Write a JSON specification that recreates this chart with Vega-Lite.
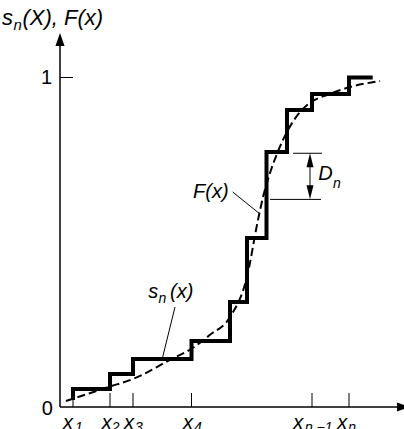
{
  "$schema": "https://vega.github.io/schema/vega-lite/v6.json",
  "width": 344,
  "height": 374,
  "autosize": {"type": "none"},
  "padding": {"left": 60, "top": 33, "right": 0, "bottom": 22},
  "background": "white",
  "config": {"view": {"stroke": null}},
  "datasets": {
    "axes": [
      {"x": 0, "y": 0, "x2": 344, "y2": 0},
      {"x": 0, "y": 0, "x2": 0, "y2": 1.12}
    ],
    "arrows": [
      {"x": 0, "y": 1.1153, "dir": "up"},
      {"x": 343.5, "y": 0, "dir": "right"}
    ],
    "xticks": [
      {"x": 13, "y": 0, "y2": 0.0425},
      {"x": 50, "y": 0, "y2": 0.0425},
      {"x": 73, "y": 0, "y2": 0.0425},
      {"x": 131.5, "y": 0, "y2": 0.0425},
      {"x": 252, "y": 0, "y2": 0.0425},
      {"x": 289, "y": 0, "y2": 0.0425}
    ],
    "yticks": [
      {"x": 0, "x2": 13, "y": 1}
    ],
    "steps": [
      {"order": 1, "x": 13, "y": 0.021},
      {"order": 2, "x": 13, "y": 0.0546},
      {"order": 3, "x": 50, "y": 0.1002},
      {"order": 4, "x": 73, "y": 0.1457},
      {"order": 5, "x": 131.5, "y": 0.2003},
      {"order": 6, "x": 170, "y": 0.3187},
      {"order": 7, "x": 187, "y": 0.5129},
      {"order": 8, "x": 206.5, "y": 0.7739},
      {"order": 9, "x": 227, "y": 0.9014},
      {"order": 10, "x": 252, "y": 0.9499},
      {"order": 11, "x": 289, "y": 1.0},
      {"order": 12, "x": 312.7, "y": 1.0}
    ],
    "curve": [
      {"x": 6, "y": 0.018},
      {"x": 50, "y": 0.062},
      {"x": 73, "y": 0.085},
      {"x": 110, "y": 0.143},
      {"x": 131, "y": 0.176},
      {"x": 150, "y": 0.219},
      {"x": 170, "y": 0.273},
      {"x": 187, "y": 0.395},
      {"x": 198, "y": 0.568},
      {"x": 203, "y": 0.637},
      {"x": 210, "y": 0.71},
      {"x": 218, "y": 0.776},
      {"x": 227, "y": 0.835},
      {"x": 240, "y": 0.895},
      {"x": 250, "y": 0.923},
      {"x": 270, "y": 0.95},
      {"x": 290, "y": 0.971},
      {"x": 320, "y": 0.989}
    ],
    "leaders": [
      {"x": 172.7, "y": 0.6525, "x2": 200, "y2": 0.5857},
      {"x": 115, "y": 0.3035, "x2": 102.7, "y2": 0.1517}
    ],
    "dnlines": [
      {"x": 233, "x2": 262, "y": 0.77},
      {"x": 210, "x2": 261, "y": 0.63}
    ],
    "dnshaft": [
      {"x": 250, "y": 0.66, "y2": 0.74}
    ],
    "dnheads": [
      {"x": 250, "y": 0.7487, "dir": "up"},
      {"x": 250, "y": 0.6516, "dir": "down"}
    ],
    "labels": [
      {"kind": "num", "text": "0", "x": -18.3, "y": -0.0243},
      {"kind": "num", "text": "1", "x": -19, "y": 0.979},
      {"kind": "title", "text": "s", "x": -58, "y": 1.1593},
      {"kind": "titlesub", "text": "n", "x": -46.5, "y": 1.145},
      {"kind": "title", "text": "(X), F(x)", "x": -37.5, "y": 1.1593},
      {"kind": "main", "text": "F(x)", "x": 133, "y": 0.634},
      {"kind": "main", "text": "s", "x": 88.3, "y": 0.3308},
      {"kind": "sub", "text": "n", "x": 98.5, "y": 0.3156},
      {"kind": "main", "text": "(x)", "x": 110, "y": 0.3308},
      {"kind": "main", "text": "D", "x": 258.3, "y": 0.689},
      {"kind": "sub", "text": "n", "x": 273, "y": 0.665},
      {"kind": "main", "text": "x", "x": 3, "y": -0.066},
      {"kind": "sub", "text": "1", "x": 15, "y": -0.0749},
      {"kind": "main", "text": "x", "x": 41.7, "y": -0.066},
      {"kind": "sub", "text": "2", "x": 51.7, "y": -0.0749},
      {"kind": "main", "text": "x", "x": 64, "y": -0.066},
      {"kind": "sub", "text": "3", "x": 75, "y": -0.0749},
      {"kind": "main", "text": "x", "x": 123, "y": -0.066},
      {"kind": "sub", "text": "4", "x": 134, "y": -0.0749},
      {"kind": "main", "text": "x", "x": 233.3, "y": -0.066},
      {"kind": "sub", "text": "n −1", "x": 245, "y": -0.0749},
      {"kind": "main", "text": "x", "x": 277.3, "y": -0.066},
      {"kind": "sub", "text": "n", "x": 288.3, "y": -0.0749}
    ]
  },
  "layer": [
    {
      "data": {"name": "axes"},
      "mark": {"type": "rule", "color": "black", "strokeWidth": 1.5},
      "encoding": {
        "x": {"field": "x", "type": "quantitative", "scale": {"domain": [0, 344], "nice": false, "zero": false}, "axis": null},
        "y": {"field": "y", "type": "quantitative", "scale": {"domain": [0, 1.135], "nice": false, "zero": false}, "axis": null},
        "x2": {"field": "x2"},
        "y2": {"field": "y2"}
      }
    },
    {
      "data": {"name": "xticks"},
      "mark": {"type": "rule", "color": "black", "strokeWidth": 1},
      "encoding": {
        "x": {"field": "x", "type": "quantitative", "scale": {"domain": [0, 344], "nice": false, "zero": false}, "axis": null},
        "y": {"field": "y", "type": "quantitative", "scale": {"domain": [0, 1.135], "nice": false, "zero": false}, "axis": null},
        "y2": {"field": "y2"}
      }
    },
    {
      "data": {"name": "yticks"},
      "mark": {"type": "rule", "color": "black", "strokeWidth": 1},
      "encoding": {
        "x": {"field": "x", "type": "quantitative", "scale": {"domain": [0, 344], "nice": false, "zero": false}, "axis": null},
        "x2": {"field": "x2"},
        "y": {"field": "y", "type": "quantitative", "scale": {"domain": [0, 1.135], "nice": false, "zero": false}, "axis": null}
      }
    },
    {
      "data": {"name": "arrows"},
      "transform": [{"filter": "datum.dir === 'up'"}],
      "mark": {"type": "point", "shape": "M0,-1L0.7,1L-0.7,1Z", "size": 169, "filled": true, "color": "black", "opacity": 1, "strokeWidth": 0},
      "encoding": {
        "x": {"field": "x", "type": "quantitative", "scale": {"domain": [0, 344], "nice": false, "zero": false}, "axis": null},
        "y": {"field": "y", "type": "quantitative", "scale": {"domain": [0, 1.135], "nice": false, "zero": false}, "axis": null}
      }
    },
    {
      "data": {"name": "arrows"},
      "transform": [{"filter": "datum.dir === 'right'"}],
      "mark": {"type": "point", "shape": "M1,0L-1,-0.7L-1,0.7Z", "size": 169, "filled": true, "color": "black", "opacity": 1, "strokeWidth": 0},
      "encoding": {
        "x": {"field": "x", "type": "quantitative", "scale": {"domain": [0, 344], "nice": false, "zero": false}, "axis": null},
        "y": {"field": "y", "type": "quantitative", "scale": {"domain": [0, 1.135], "nice": false, "zero": false}, "axis": null}
      }
    },
    {
      "data": {"name": "curve"},
      "mark": {"type": "line", "color": "black", "strokeWidth": 2, "strokeDash": [8, 4], "interpolate": "monotone"},
      "encoding": {
        "x": {"field": "x", "type": "quantitative", "scale": {"domain": [0, 344], "nice": false, "zero": false}, "axis": null},
        "y": {"field": "y", "type": "quantitative", "scale": {"domain": [0, 1.135], "nice": false, "zero": false}, "axis": null}
      }
    },
    {
      "data": {"name": "steps"},
      "mark": {"type": "line", "color": "black", "strokeWidth": 4, "interpolate": "step-after", "strokeJoin": "miter", "strokeCap": "butt"},
      "encoding": {
        "x": {"field": "x", "type": "quantitative", "scale": {"domain": [0, 344], "nice": false, "zero": false}, "axis": null},
        "y": {"field": "y", "type": "quantitative", "scale": {"domain": [0, 1.135], "nice": false, "zero": false}, "axis": null},
        "order": {"field": "order", "type": "quantitative"}
      }
    },
    {
      "data": {"name": "leaders"},
      "mark": {"type": "rule", "color": "black", "strokeWidth": 1},
      "encoding": {
        "x": {"field": "x", "type": "quantitative", "scale": {"domain": [0, 344], "nice": false, "zero": false}, "axis": null},
        "y": {"field": "y", "type": "quantitative", "scale": {"domain": [0, 1.135], "nice": false, "zero": false}, "axis": null},
        "x2": {"field": "x2"},
        "y2": {"field": "y2"}
      }
    },
    {
      "data": {"name": "dnlines"},
      "mark": {"type": "rule", "color": "black", "strokeWidth": 1},
      "encoding": {
        "x": {"field": "x", "type": "quantitative", "scale": {"domain": [0, 344], "nice": false, "zero": false}, "axis": null},
        "x2": {"field": "x2"},
        "y": {"field": "y", "type": "quantitative", "scale": {"domain": [0, 1.135], "nice": false, "zero": false}, "axis": null}
      }
    },
    {
      "data": {"name": "dnshaft"},
      "mark": {"type": "rule", "color": "black", "strokeWidth": 1},
      "encoding": {
        "x": {"field": "x", "type": "quantitative", "scale": {"domain": [0, 344], "nice": false, "zero": false}, "axis": null},
        "y": {"field": "y", "type": "quantitative", "scale": {"domain": [0, 1.135], "nice": false, "zero": false}, "axis": null},
        "y2": {"field": "y2"}
      }
    },
    {
      "data": {"name": "dnheads"},
      "transform": [{"filter": "datum.dir === 'up'"}],
      "mark": {"type": "point", "shape": "M0,-1L0.5,1L-0.5,1Z", "size": 196, "filled": true, "color": "black", "opacity": 1, "strokeWidth": 0},
      "encoding": {
        "x": {"field": "x", "type": "quantitative", "scale": {"domain": [0, 344], "nice": false, "zero": false}, "axis": null},
        "y": {"field": "y", "type": "quantitative", "scale": {"domain": [0, 1.135], "nice": false, "zero": false}, "axis": null}
      }
    },
    {
      "data": {"name": "dnheads"},
      "transform": [{"filter": "datum.dir === 'down'"}],
      "mark": {"type": "point", "shape": "M0,1L0.5,-1L-0.5,-1Z", "size": 196, "filled": true, "color": "black", "opacity": 1, "strokeWidth": 0},
      "encoding": {
        "x": {"field": "x", "type": "quantitative", "scale": {"domain": [0, 344], "nice": false, "zero": false}, "axis": null},
        "y": {"field": "y", "type": "quantitative", "scale": {"domain": [0, 1.135], "nice": false, "zero": false}, "axis": null}
      }
    },
    {
      "data": {"name": "labels"},
      "transform": [{"filter": "datum.kind === 'num'"}],
      "mark": {"type": "text", "font": "Liberation Sans", "fontSize": 20, "align": "left", "baseline": "alphabetic", "color": "black"},
      "encoding": {
        "x": {"field": "x", "type": "quantitative", "scale": {"domain": [0, 344], "nice": false, "zero": false}, "axis": null},
        "y": {"field": "y", "type": "quantitative", "scale": {"domain": [0, 1.135], "nice": false, "zero": false}, "axis": null},
        "text": {"field": "text"}
      }
    },
    {
      "data": {"name": "labels"},
      "transform": [{"filter": "datum.kind === 'main'"}],
      "mark": {"type": "text", "font": "Liberation Sans", "fontSize": 20, "fontStyle": "italic", "align": "left", "baseline": "alphabetic", "color": "black"},
      "encoding": {
        "x": {"field": "x", "type": "quantitative", "scale": {"domain": [0, 344], "nice": false, "zero": false}, "axis": null},
        "y": {"field": "y", "type": "quantitative", "scale": {"domain": [0, 1.135], "nice": false, "zero": false}, "axis": null},
        "text": {"field": "text"}
      }
    },
    {
      "data": {"name": "labels"},
      "transform": [{"filter": "datum.kind === 'sub'"}],
      "mark": {"type": "text", "font": "Liberation Sans", "fontSize": 14, "fontStyle": "italic", "align": "left", "baseline": "alphabetic", "color": "black"},
      "encoding": {
        "x": {"field": "x", "type": "quantitative", "scale": {"domain": [0, 344], "nice": false, "zero": false}, "axis": null},
        "y": {"field": "y", "type": "quantitative", "scale": {"domain": [0, 1.135], "nice": false, "zero": false}, "axis": null},
        "text": {"field": "text"}
      }
    },
    {
      "data": {"name": "labels"},
      "transform": [{"filter": "datum.kind === 'title'"}],
      "mark": {"type": "text", "font": "Liberation Sans", "fontSize": 22, "fontStyle": "italic", "align": "left", "baseline": "alphabetic", "color": "black"},
      "encoding": {
        "x": {"field": "x", "type": "quantitative", "scale": {"domain": [0, 344], "nice": false, "zero": false}, "axis": null},
        "y": {"field": "y", "type": "quantitative", "scale": {"domain": [0, 1.135], "nice": false, "zero": false}, "axis": null},
        "text": {"field": "text"}
      }
    },
    {
      "data": {"name": "labels"},
      "transform": [{"filter": "datum.kind === 'titlesub'"}],
      "mark": {"type": "text", "font": "Liberation Sans", "fontSize": 15, "fontStyle": "italic", "align": "left", "baseline": "alphabetic", "color": "black"},
      "encoding": {
        "x": {"field": "x", "type": "quantitative", "scale": {"domain": [0, 344], "nice": false, "zero": false}, "axis": null},
        "y": {"field": "y", "type": "quantitative", "scale": {"domain": [0, 1.135], "nice": false, "zero": false}, "axis": null},
        "text": {"field": "text"}
      }
    }
  ]
}
